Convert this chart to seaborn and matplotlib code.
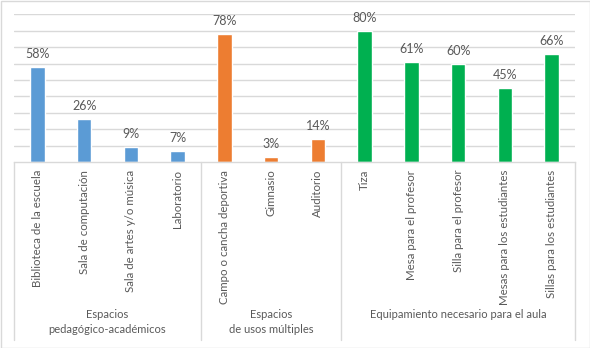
import matplotlib
matplotlib.use("Agg")
import matplotlib.pyplot as plt
import matplotlib.transforms as mtransforms
from matplotlib.patches import Rectangle
import seaborn as sns
import pandas as pd

categories = [
    "Biblioteca de la escuela", "Sala de computación", "Sala de artes y/o música", "Laboratorio",
    "Campo o cancha deportiva", "Gimnasio", "Auditorio",
    "Tiza", "Mesa para el profesor", "Silla para el profesor",
    "Mesas para los estudiantes", "Sillas para los estudiantes",
]
values = [58, 26, 9, 7, 78, 3, 14, 80, 61, 60, 45, 66]
groups = ["Espacios\npedagógico-académicos"] * 4 + ["Espacios\nde usos múltiples"] * 3 + \
         ["Equipamiento necesario para el aula"] * 5
group_names = ["Espacios\npedagógico-académicos", "Espacios\nde usos múltiples",
               "Equipamiento necesario para el aula"]
group_colors = ["#5B9BD5", "#ED7D31", "#00B050"]

df = pd.DataFrame({"cat": categories, "val": values, "grp": groups})

sns.set_theme(style="white")
plt.rcParams["font.family"] = ["Lato", "DejaVu Sans"]
TXT = "#595959"
GRID = "#D9D9D9"

fig = plt.figure(figsize=(5.9, 3.48), dpi=100)
ax = fig.add_axes([14 / 590, (348 - 162) / 348, (575 - 14) / 590, (162 - 14.3) / 348])

sns.barplot(data=df, x="cat", y="val", hue="grp", order=categories, hue_order=group_names,
            palette=group_colors, dodge=False, width=0.31, legend=False, ax=ax, saturation=1)

ax.set_xlim(-0.5, len(categories) - 0.5)
ax.set_ylim(0, 90)
ax.set_yticks(range(10, 91, 10))
ax.yaxis.grid(True, color=GRID, linewidth=1)
ax.set_axisbelow(True)
ax.tick_params(axis="y", left=False, labelleft=False)
for s in ["left", "right", "top"]:
    ax.spines[s].set_visible(False)
ax.spines["bottom"].set_color(GRID)
ax.spines["bottom"].set_linewidth(1)
ax.set_xlabel("")
ax.set_ylabel("")

ax.set_xticks(range(len(categories)))
ax.set_xticklabels(categories, rotation=90, va="top", ha="center", fontsize=8.3, color=TXT)
ax.tick_params(axis="x", length=0, pad=5.5)

for cont in ax.containers:
    ax.bar_label(cont, fmt="{:.0f}%", padding=5, fontsize=9, color=TXT)

trans = mtransforms.blended_transform_factory(ax.transData, ax.transAxes)
h_ax = (162 - 14.3)
bottom = -(340 - 162) / h_ax
for xb in [-0.5, 3.5, 6.5, len(categories) - 0.5]:
    ax.plot([xb, xb], [0, bottom], transform=trans, color=GRID, linewidth=1, clip_on=False)

bounds = [(-0.5, 3.5), (3.5, 6.5), (6.5, len(categories) - 0.5)]
for (a, b), name in zip(bounds, group_names):
    y_txt = -(309 - 162) / h_ax
    ax.text((a + b) / 2, y_txt, name, transform=trans, ha="center", va="top",
            fontsize=8, color=TXT, linespacing=1.45, multialignment="center")

fig.patches.append(Rectangle((0.5 / 590, 0.5 / 348), 589 / 590, 347 / 348, transform=fig.transFigure,
                             fill=False, edgecolor=GRID, linewidth=1))

fig.savefig("out.png", dpi=100, facecolor="white")
